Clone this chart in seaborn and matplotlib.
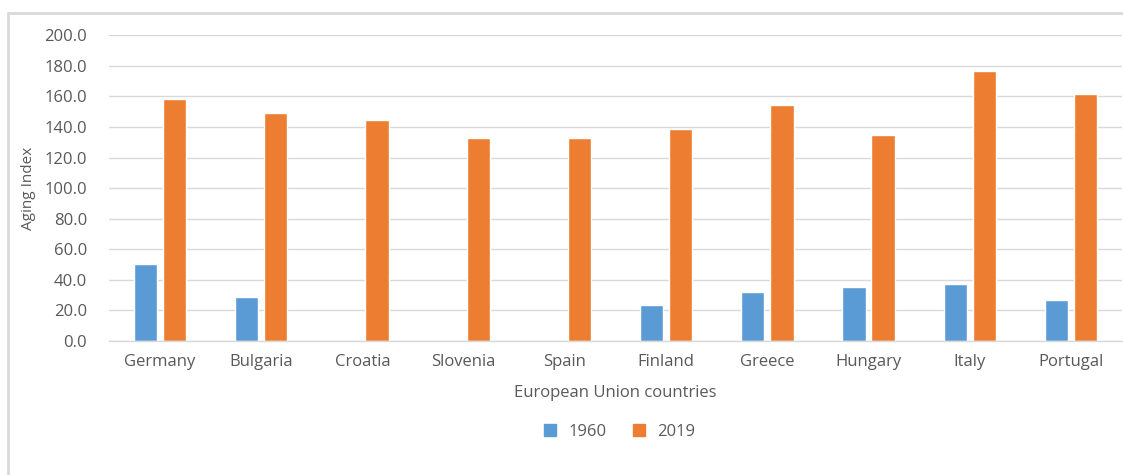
import numpy as np
import pandas as pd
import matplotlib
matplotlib.use("Agg")
import matplotlib.pyplot as plt
import seaborn as sns
from matplotlib.lines import Line2D

countries = ["Germany", "Bulgaria", "Croatia", "Slovenia", "Spain",
             "Finland", "Greece", "Hungary", "Italy", "Portugal"]
values_1960 = [50.4, 28.6, np.nan, np.nan, np.nan, 23.7, 31.8, 35.5, 37.5, 27.0]
values_2019 = [158.3, 148.9, 144.5, 132.8, 132.7, 138.8, 154.5, 134.4, 176.3, 161.4]
years = ["1960", "2019"]
colors = ["#5B9BD5", "#ED7D31"]
y_ticks = [0, 20, 40, 60, 80, 100, 120, 140, 160, 180, 200]

df = pd.DataFrame({
    "country": countries * 2,
    "year": [years[0]] * len(countries) + [years[1]] * len(countries),
    "value": values_1960 + values_2019,
})

sns.set_theme(style="white")
plt.rcParams["font.family"] = ["Open Sans", "DejaVu Sans"]
text_color = "#595959"

fig = plt.figure(figsize=(11.23, 4.75), dpi=100)
ax = fig.add_axes([0.0974, 0.282, 0.9014, 0.644])

sns.barplot(data=df, x="country", y="value", hue="year", palette=colors,
            width=0.575, gap=0.2, ax=ax, legend=False, saturation=1)

ax.set_ylim(0, 200)
ax.set_xlim(-0.5, len(countries) - 0.5)
ax.set_yticks(y_ticks)
ax.set_yticklabels([f"{v:.1f}" for v in y_ticks])
ax.yaxis.grid(True, color="#D9D9D9", linewidth=1)
ax.set_axisbelow(True)
for s in ["top", "right", "left"]:
    ax.spines[s].set_visible(False)
ax.spines["bottom"].set_color("#D9D9D9")
ax.spines["bottom"].set_linewidth(1)
ax.tick_params(axis="both", length=0, labelsize=12, colors=text_color)
ax.tick_params(axis="y", pad=16)
ax.tick_params(axis="x", pad=9)

ax.set_xlabel("European Union countries", fontsize=12, color=text_color, labelpad=11)
ax.set_ylabel("Aging Index", fontsize=11, color=text_color, labelpad=6)

handles = [Line2D([0], [0], marker="s", linestyle="none", markersize=9,
                  markerfacecolor=c, markeredgecolor=c) for c in colors]
fig.legend(handles, years, loc="center", bbox_to_anchor=(0.547, 0.09), ncol=2,
           frameon=False, fontsize=12, labelcolor=text_color,
           handletextpad=0.1, columnspacing=0.9)

# chart frame
fig.add_artist(Line2D([8 / 1123, 8 / 1123], [0, 1 - 13 / 475],
                      transform=fig.transFigure, color="#D9D9D9", linewidth=2))
fig.add_artist(Line2D([8 / 1123, 1], [1 - 13 / 475, 1 - 13 / 475],
                      transform=fig.transFigure, color="#D9D9D9", linewidth=2))

fig.savefig("out.png", dpi=100)
